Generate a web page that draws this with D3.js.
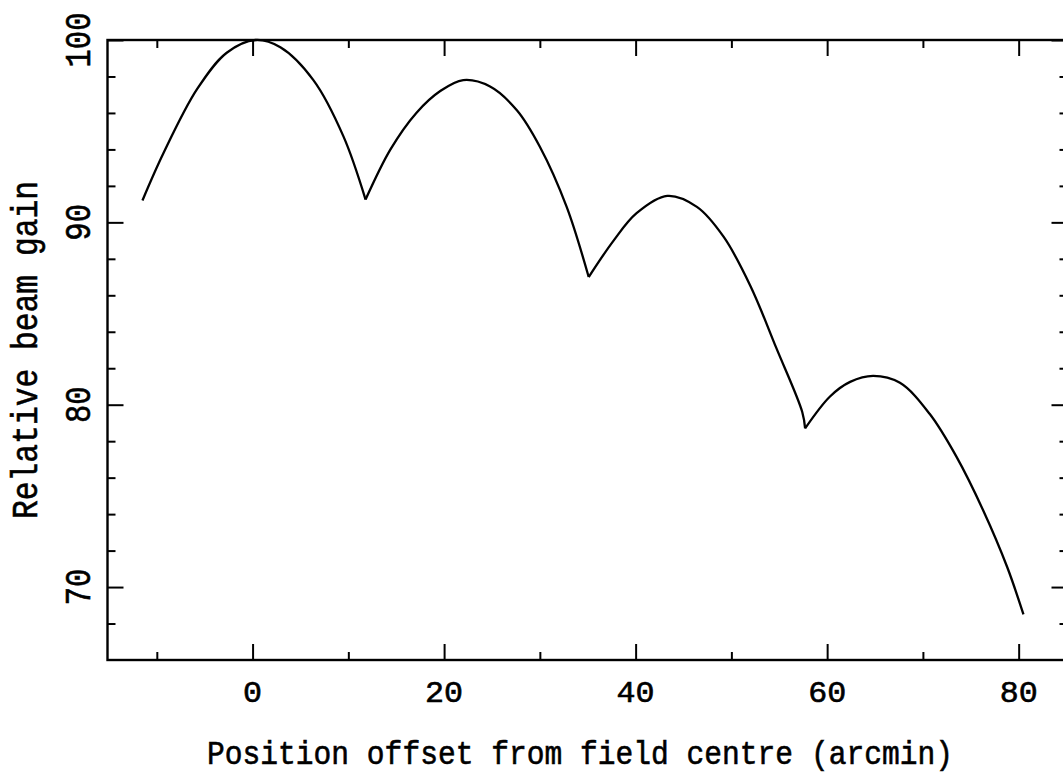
<!DOCTYPE html>
<html>
<head>
<meta charset="utf-8">
<script src="https://cdn.jsdelivr.net/npm/d3@7"></script>
<style>
  html, body { margin: 0; padding: 0; background: #fff; }
  svg { display: block; }
  text { font-family: "Liberation Mono", "DejaVu Sans Mono", monospace; fill: #000; stroke: #000; stroke-width: 0.6px; }
</style>
</head>
<body>
<svg id="chart" width="1063" height="776"></svg>
<script>
// ---- data ----
const lobe1 = [[-11.5, 91.2], [-9.3, 93.8], [-5.8, 97.3], [-2.7, 99.3], [0.3, 100.0], [2.9, 99.6], [6.35, 97.8], [9.5, 94.7], [11.8, 91.25]];
const lobe2 = [[11.8, 91.25], [14.4, 94.0], [17.1, 96.0], [19.6, 97.2], [22.0, 97.8], [24.8, 97.45], [27.6, 96.15], [30.0, 94.15], [32.8, 90.85], [35.1, 87.0]];
const lobe3 = [[35.1, 87.0], [37.7, 89.0], [40.1, 90.5], [43.3, 91.45], [46.4, 90.85], [49.2, 89.2], [52.0, 86.5], [54.7, 83.1], [57.4, 79.6], [57.7, 78.7]];
const lobe4 = [[57.7, 78.7], [60.3, 80.45], [62.4, 81.25], [64.8, 81.58], [67.6, 81.2], [70.7, 79.5], [73.5, 77.15], [76.3, 74.2], [78.8, 71.1], [80.5, 68.5]];
const lobes = [lobe1, lobe2, lobe3, lobe4];

const xMajorTicks = [0, 20, 40, 60, 80];
const xMinorTicks = [-10, 10, 30, 50, 70];
const yMajorTicks = [70, 80, 90, 100];
const yMinorTicks = [68, 72, 74, 76, 78, 82, 84, 86, 88, 92, 94, 96, 98];
const xDomain = [-15.15, 85.1];
const yDomain = [66, 100];
const xTitle = "Position offset from field centre (arcmin)";
const yTitle = "Relative beam gain";

(function () {
  // ---- layout ----
  const pL = 107.5, pR = 1067.5, pT = 40, pB = 660;
  const svg = d3.select("#chart");
  const x = d3.scaleLinear().domain(xDomain).range([pL, pR]);
  const y = d3.scaleLinear().domain(yDomain).range([pB, pT]);
  const MAJ = 16, MIN = 8;

  function styleAxis(g) {
    g.select(".domain").remove();
    g.selectAll(".tick line").attr("stroke", "#000").attr("stroke-width", 2);
    g.selectAll(".tick text").remove();
  }

  // ticks (inward) on all four sides
  svg.append("g").attr("transform", `translate(0,${pB})`)
    .call(d3.axisBottom(x).tickValues(xMajorTicks).tickSize(-MAJ)).call(styleAxis);
  svg.append("g").attr("transform", `translate(0,${pB})`)
    .call(d3.axisBottom(x).tickValues(xMinorTicks).tickSize(-MIN)).call(styleAxis);
  svg.append("g").attr("transform", `translate(0,${pT})`)
    .call(d3.axisTop(x).tickValues(xMajorTicks).tickSize(-MAJ)).call(styleAxis);
  svg.append("g").attr("transform", `translate(0,${pT})`)
    .call(d3.axisTop(x).tickValues(xMinorTicks).tickSize(-MIN)).call(styleAxis);
  svg.append("g").attr("transform", `translate(${pL},0)`)
    .call(d3.axisLeft(y).tickValues(yMajorTicks).tickSize(-MAJ)).call(styleAxis);
  svg.append("g").attr("transform", `translate(${pL},0)`)
    .call(d3.axisLeft(y).tickValues(yMinorTicks).tickSize(-MIN)).call(styleAxis);
  svg.append("g").attr("transform", `translate(${pR},0)`)
    .call(d3.axisRight(y).tickValues(yMajorTicks).tickSize(-MAJ)).call(styleAxis);
  svg.append("g").attr("transform", `translate(${pR},0)`)
    .call(d3.axisRight(y).tickValues(yMinorTicks).tickSize(-MIN)).call(styleAxis);

  // frame
  svg.append("rect")
    .attr("x", pL).attr("y", pT)
    .attr("width", pR - pL).attr("height", pB - pT)
    .attr("fill", "none").attr("stroke", "#000").attr("stroke-width", 2.4);

  // tick labels
  svg.append("g").selectAll("text").data(xMajorTicks).join("text")
    .attr("x", d => x(d)).attr("y", 702)
    .attr("text-anchor", "middle")
    .attr("font-size", 29)
    .attr("textLength", d => String(d).length * 19)
    .attr("lengthAdjust", "spacingAndGlyphs")
    .text(d => d);

  svg.append("g").selectAll("text").data(yMajorTicks).join("text")
    .attr("transform", d => `translate(90,${y(d)}) rotate(-90)`)
    .attr("text-anchor", "middle")
    .attr("font-size", 36)
    .attr("textLength", d => String(d).length * 18.3)
    .attr("lengthAdjust", "spacingAndGlyphs")
    .text(d => d);

  // axis titles
  svg.append("text")
    .attr("x", 580).attr("y", 764)
    .attr("text-anchor", "middle")
    .attr("font-size", 33)
    .attr("textLength", 746)
    .attr("lengthAdjust", "spacingAndGlyphs")
    .text(xTitle);

  svg.append("text")
    .attr("transform", `translate(37,350) rotate(-90)`)
    .attr("text-anchor", "middle")
    .attr("font-size", 36)
    .attr("textLength", 338)
    .attr("lengthAdjust", "spacingAndGlyphs")
    .text(yTitle);

  // curve
  const line = d3.line().x(d => x(d[0])).y(d => y(d[1])).curve(d3.curveCatmullRom.alpha(0.5));
  svg.append("g").selectAll("path").data(lobes).join("path")
    .attr("d", line)
    .attr("fill", "none").attr("stroke", "#000")
    .attr("stroke-width", 2.3).attr("stroke-linejoin", "miter");
})();
</script>
</body>
</html>
